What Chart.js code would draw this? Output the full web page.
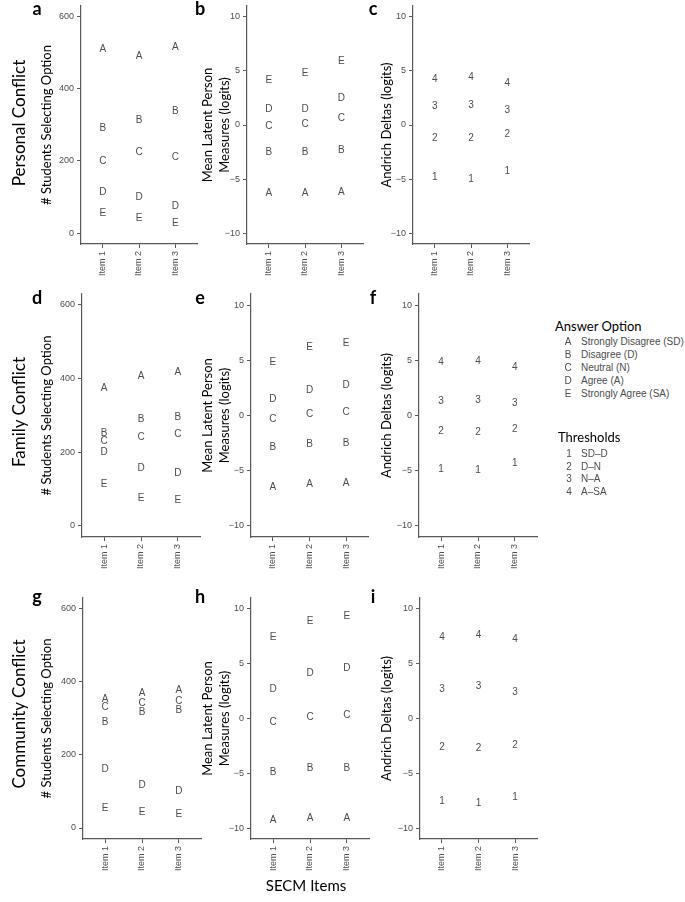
<!DOCTYPE html>
<html>
<head>
<meta charset="utf-8">
<script src="https://cdn.jsdelivr.net/npm/chart.js@4.4.1/dist/chart.umd.min.js"></script>
<style>
  body { margin: 0; background: #fff; width: 685px; height: 902px; position: relative; overflow: hidden; font-family: Lato, sans-serif; }
  canvas { position: absolute; }
  .txt { position: absolute; white-space: nowrap; }
  .row { font-size: 17px; color: #000; transform: translate(-50%, -50%) rotate(-90deg); line-height: 20px; }
  .tag { font-size: 18px; font-weight: bold; line-height: 18px; transform: translateX(-50%); }
  .leghead { font-size: 13px; line-height: 16px; transform: translateY(-50%); }
  .legkey { font: 10px "Liberation Sans", sans-serif; color: #4d4d4d; line-height: 12px; transform: translate(-50%, -50%); }
  .legtxt { font: 10px "Liberation Sans", sans-serif; color: #4d4d4d; line-height: 12px; transform: translateY(-50%); }
</style>
</head>
<body>
<script>
// categorias y etiquetas
const items = ['Item 1', 'Item 2', 'Item 3'];
const answerKeys = ['A', 'B', 'C', 'D', 'E'];
const answerLabels = ['Strongly Disagree (SD)', 'Disagree (D)', 'Neutral (N)', 'Agree (A)', 'Strongly Agree (SA)'];
const thresholdKeys = ['1', '2', '3', '4'];
const thresholdLabels = ['SD\u2013D', 'D\u2013N', 'N\u2013A', 'A\u2013SA'];
const rowNames = ['Personal Conflict', 'Family Conflict', 'Community Conflict'];
const countTicks = [0, 200, 400, 600];
const logitTicks = [-10, -5, 0, 5, 10];

// una fila por opcion (A..E) o umbral (1..4), una columna por item
const personalCounts = [[508, 489, 515], [291, 312, 338], [199, 225, 211], [112, 99, 73], [54, 41, 28]];
const personalMeasures = [[-6.3, -6.3, -6.2], [-2.5, -2.5, -2.3], [-0.1, 0.1, 0.6], [1.5, 1.5, 2.5], [4.1, 4.75, 5.9]];
const personalDeltas = [[-4.8, -5.05, -4.3], [-1.2, -1.2, -0.9], [1.7, 1.85, 1.4], [4.25, 4.4, 3.9]];

const familyCounts = [[374, 406, 417], [252, 289, 293], [230, 241, 248], [199, 156, 142], [113, 75, 70]];
const familyMeasures = [[-6.5, -6.2, -6.1], [-2.9, -2.6, -2.55], [-0.35, 0.15, 0.25], [1.5, 2.3, 2.75], [4.8, 6.2, 6.5]];
const familyDeltas = [[-4.9, -5.0, -4.35], [-1.4, -1.5, -1.2], [1.3, 1.4, 1.15], [4.8, 4.9, 4.35]];

const communityCounts = [[351, 367, 376], [290, 315, 322], [331, 340, 347], [160, 117, 101], [54, 43, 38]];
const communityMeasures = [[-9.3, -9.1, -9.1], [-4.9, -4.5, -4.5], [-0.3, 0.15, 0.3], [2.7, 4.15, 4.55], [7.4, 8.85, 9.35]];
const communityDeltas = [[-7.55, -7.7, -7.2], [-2.6, -2.75, -2.4], [2.7, 2.95, 2.4], [7.4, 7.6, 7.2]];

const grey = '#4d4d4d';
const axisColor = '#595959';
const tickFont = { family: 'Liberation Sans', size: 9 };
const titleFont = { family: 'Lato', size: 13, lineHeight: 1.3 };

const kinds = {
  count: { keys: answerKeys, ticks: countTicks, min: -30, max: 628, title: '# Students Selecting Option', left: 0, titleX: 47 },
  measure: { keys: answerKeys, ticks: logitTicks, min: -11, max: 11, title: ['Mean Latent Person', 'Measures (logits)'], left: 190, titleX: 208 },
  delta: { keys: thresholdKeys, ticks: logitTicks, min: -11, max: 11, title: 'Andrich Deltas (logits)', left: 372, titleX: 387 }
};

// L,R = eje y / fin del eje x ; T,B = arriba / eje x
const panels = [
  { tag: 'a', kind: 'count', data: personalCounts, L: 81, R: 197, T: 6, B: 244 },
  { tag: 'b', kind: 'measure', data: personalMeasures, L: 247, R: 363, T: 6, B: 244 },
  { tag: 'c', kind: 'delta', data: personalDeltas, L: 413, R: 529, T: 6, B: 244 },
  { tag: 'd', kind: 'count', data: familyCounts, L: 82, R: 200, T: 294, B: 537 },
  { tag: 'e', kind: 'measure', data: familyMeasures, L: 251, R: 368, T: 294, B: 537 },
  { tag: 'f', kind: 'delta', data: familyDeltas, L: 419, R: 537, T: 294, B: 537 },
  { tag: 'g', kind: 'count', data: communityCounts, L: 83, R: 201, T: 598, B: 839 },
  { tag: 'h', kind: 'measure', data: communityMeasures, L: 251, R: 369, T: 598, B: 839 },
  { tag: 'i', kind: 'delta', data: communityDeltas, L: 420, R: 537, T: 598, B: 839 }
];

const padTop = 10, xAxisH = 45, padRight = 6;

// dibuja la letra / numero en la posicion de cada punto
const letterPlugin = {
  id: 'letters',
  afterDatasetsDraw(chart) {
    const ctx = chart.ctx;
    ctx.save();
    ctx.font = '10px "Liberation Sans"';
    ctx.fillStyle = grey;
    ctx.textAlign = 'center';
    ctx.textBaseline = 'middle';
    chart.data.datasets.forEach((ds, i) => {
      chart.getDatasetMeta(i).data.forEach(pt => ctx.fillText(ds.label, pt.x, pt.y));
    });
    ctx.restore();
  }
};

function addText(cls, text, x, y) {
  const d = document.createElement('div');
  d.className = 'txt ' + cls;
  d.textContent = text;
  d.style.left = x + 'px';
  d.style.top = y + 'px';
  document.body.appendChild(d);
  return d;
}

panels.forEach(p => {
  const k = kinds[p.kind];
  const canvas = document.createElement('canvas');
  const w = p.R - k.left + padRight;
  const h = padTop + (p.B - p.T) + xAxisH;
  canvas.width = w; canvas.height = h;
  canvas.style.left = k.left + 'px';
  canvas.style.top = (p.T - padTop) + 'px';
  document.body.appendChild(canvas);

  const yW = p.L - k.left;
  const titlePad = k.titleX - k.left - titleFont.size * titleFont.lineHeight / 2;

  new Chart(canvas.getContext('2d'), {
    type: 'scatter',
    data: {
      datasets: p.data.map((vals, i) => ({
        label: k.keys[i],
        data: vals.map((v, j) => ({ x: j + 1, y: v })),
        pointRadius: 0
      }))
    },
    options: {
      responsive: false,
      animation: false,
      layout: { padding: { top: padTop, right: padRight, left: 0, bottom: 0 } },
      plugins: { legend: { display: false }, tooltip: { enabled: false } },
      scales: {
        x: {
          type: 'linear', min: 0.4, max: 3.6,
          afterBuildTicks: s => { s.ticks = items.map((_, i) => ({ value: i + 1 })); },
          afterFit: s => { s.height = xAxisH; },
          ticks: { callback: v => items[v - 1], minRotation: 90, maxRotation: 90, autoSkip: false, font: tickFont, color: grey, padding: 3 },
          grid: { drawOnChartArea: false, tickLength: 4, color: axisColor },
          border: { color: axisColor, width: 1.2 }
        },
        y: {
          min: k.min, max: k.max,
          afterBuildTicks: s => { s.ticks = k.ticks.map(v => ({ value: v })); },
          afterFit: s => { s.width = yW; },
          ticks: { callback: v => (v < 0 ? '\u2212' + Math.abs(v) : String(v)), font: tickFont, color: grey, padding: 3 },
          grid: { drawOnChartArea: false, tickLength: 4, color: axisColor },
          border: { color: axisColor, width: 1.2 },
          title: { display: true, text: k.title, font: titleFont, color: '#000', padding: { top: titlePad, bottom: 0 } }
        }
      }
    },
    plugins: [letterPlugin]
  });
});

// etiquetas de panel y de fila
const tagX = { count: 37, measure: 200, delta: 373 };
const tagBase = [14, 303, 602];
panels.forEach((p, i) => {
  addText('tag', p.tag, tagX[p.kind], tagBase[Math.floor(i / 3)] - 15);
});
const rowY = [123, 412, 714];
rowNames.forEach((n, i) => addText('row', n, 19, rowY[i]));

addText('', 'SECM Items', 306, 885).style.cssText += 'font-size:15px;transform:translate(-50%,-50%);';

// leyenda
addText('leghead', 'Answer Option', 555, 326);
answerKeys.forEach((kk, i) => {
  const y = 342.3 + i * 12.85;
  addText('legkey', kk, 568, y);
  addText('legtxt', answerLabels[i], 581, y);
});
addText('leghead', 'Thresholds', 558, 437);
thresholdKeys.forEach((kk, i) => {
  const y = 454 + i * 12.7;
  addText('legkey', kk, 569, y);
  addText('legtxt', thresholdLabels[i], 581, y);
});
</script>
</body>
</html>
